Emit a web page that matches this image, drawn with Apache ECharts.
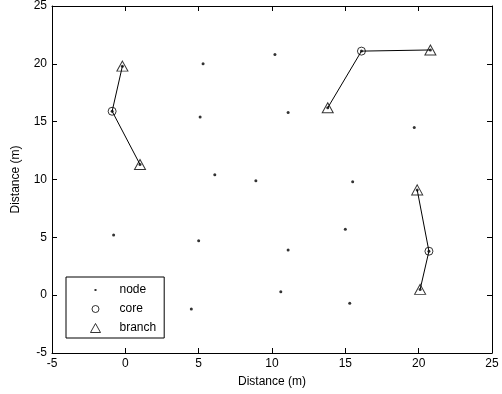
<!DOCTYPE html>
<html>
<head>
<meta charset="utf-8">
<script src="https://cdn.jsdelivr.net/npm/echarts@6/dist/echarts.min.js"></script>
<style>
  html, body { margin: 0; padding: 0; background: #fff; }
  #main { width: 502px; height: 394px; }
</style>
</head>
<body>
<div id="main"></div>
<script>
// 普通节点坐标 (m)，含 core / branch 位置上的节点
var nodeX = [5.3, 10.2, 5.1, 11.1, 19.7, 6.1, 8.9, 15.5, -0.8, 5.0, 4.5, 11.1, 15.0, 10.6, 15.3,
             -0.9, 16.1, 20.7, -0.2, 1.0, 13.8, 20.8, 19.9, 20.1];
var nodeY = [20.0, 20.8, 15.4, 15.8, 14.5, 10.4, 9.9, 9.8, 5.2, 4.7, -1.2, 3.9, 5.7, 0.3, -0.7,
             15.9, 21.1, 3.8, 19.8, 11.3, 16.2, 21.2, 9.1, 0.5];

// 簇头 core
var coreX = [-0.9, 16.1, 20.7];
var coreY = [15.9, 21.1, 3.8];

// 分支 branch，每个 core 两个
var branchX = [-0.2, 1.0, 13.8, 20.8, 19.9, 20.1];
var branchY = [19.8, 11.3, 16.2, 21.2, 9.1, 0.5];

var ticks = [-5, 0, 5, 10, 15, 20, 25];

var font = 'Liberation Sans, Arial, Helvetica, sans-serif';

function pairs(xs, ys){
    var out = [];
    for(var i=0;i<xs.length;i++){
        out.push([xs[i], ys[i]]);
    }
    return out;
}

// 每个簇画一条折线：branch - core - branch
function clusterLines(){
    var list = [];
    for(var i=0;i<coreX.length;i++){
        list.push({
            type: 'line',
            name: 'link' + i,
            data: [[branchX[2*i], branchY[2*i]], [coreX[i], coreY[i]], [branchX[2*i+1], branchY[2*i+1]]],
            symbol: 'none',
            lineStyle: { color: '#000', width: 1 },
            silent: true,
            z: 1
        });
    }
    return list;
}

function axisCommon(show){
    return {
        type: 'value',
        min: ticks[0],
        max: ticks[ticks.length - 1],
        interval: 5,
        axisLine: { show: true, onZero: false, lineStyle: { color: '#000', width: 1 } },
        axisTick: { show: true, inside: true, length: 5, lineStyle: { color: '#000' } },
        axisLabel: { show: show, color: '#000', fontSize: 12, fontFamily: font, margin: 5 },
        splitLine: { show: false }
    };
}

var myChart = echarts.init(document.getElementById('main'), null, { renderer: 'canvas' });

var xBottom = axisCommon(true);
xBottom.position = 'bottom';
xBottom.name = 'Distance (m)';
xBottom.nameLocation = 'middle';
xBottom.nameGap = 23;
xBottom.nameTextStyle = { color: '#000', fontSize: 12, fontFamily: font };
var xTop = axisCommon(false);
xTop.position = 'top';

var yLeft = axisCommon(true);
yLeft.position = 'left';
yLeft.name = 'Distance (m)';
yLeft.nameLocation = 'middle';
yLeft.nameGap = 30;
yLeft.nameTextStyle = { color: '#000', fontSize: 12, fontFamily: font };
var yRight = axisCommon(false);
yRight.position = 'right';

var hollow = { color: 'rgba(0,0,0,0)', borderColor: '#000', borderWidth: 1 };

var option = {
    backgroundColor: '#fff',
    animation: false,
    textStyle: { fontFamily: font },
    grid: { left: 52, right: 10, top: 6, bottom: 41 },
    xAxis: [xBottom, xTop],
    yAxis: [yLeft, yRight],
    legend: {
        orient: 'vertical',
        left: 66,
        top: 277,
        padding: [7, 8, 4, 24],
        itemGap: 7,
        itemWidth: 10,
        itemHeight: 10,
        borderColor: '#000',
        borderWidth: 1,
        backgroundColor: '#fff',
        selectedMode: false,
        itemStyle: { borderWidth: 1 },
        textStyle: { color: '#000', fontSize: 12, fontFamily: font, padding: [0, 0, 0, 14] },
        data: [
            { name: 'node', icon: 'path://M0,0M10,10M4,4L6,4L6,6L4,6Z' },
            { name: 'core', icon: 'path://M0,0M10,10M5,1.5A3.5,3.5 0 1 1 4.99,1.5Z' },
            { name: 'branch', icon: 'path://M0,0M10,10M5,0.5L10,9.5L0,9.5Z' }
        ]
    },
    series: clusterLines().concat([
        {
            type: 'scatter',
            name: 'branch',
            data: pairs(branchX, branchY),
            symbol: 'triangle',
            symbolSize: [11, 10],
            itemStyle: hollow,
            z: 2
        },
        {
            type: 'scatter',
            name: 'core',
            data: pairs(coreX, coreY),
            symbol: 'circle',
            symbolSize: 8,
            itemStyle: hollow,
            z: 2
        },
        {
            type: 'scatter',
            name: 'node',
            data: pairs(nodeX, nodeY),
            symbol: 'circle',
            symbolSize: 3,
            itemStyle: { color: '#000' },
            z: 3
        }
    ])
};

myChart.setOption(option);
</script>
</body>
</html>
